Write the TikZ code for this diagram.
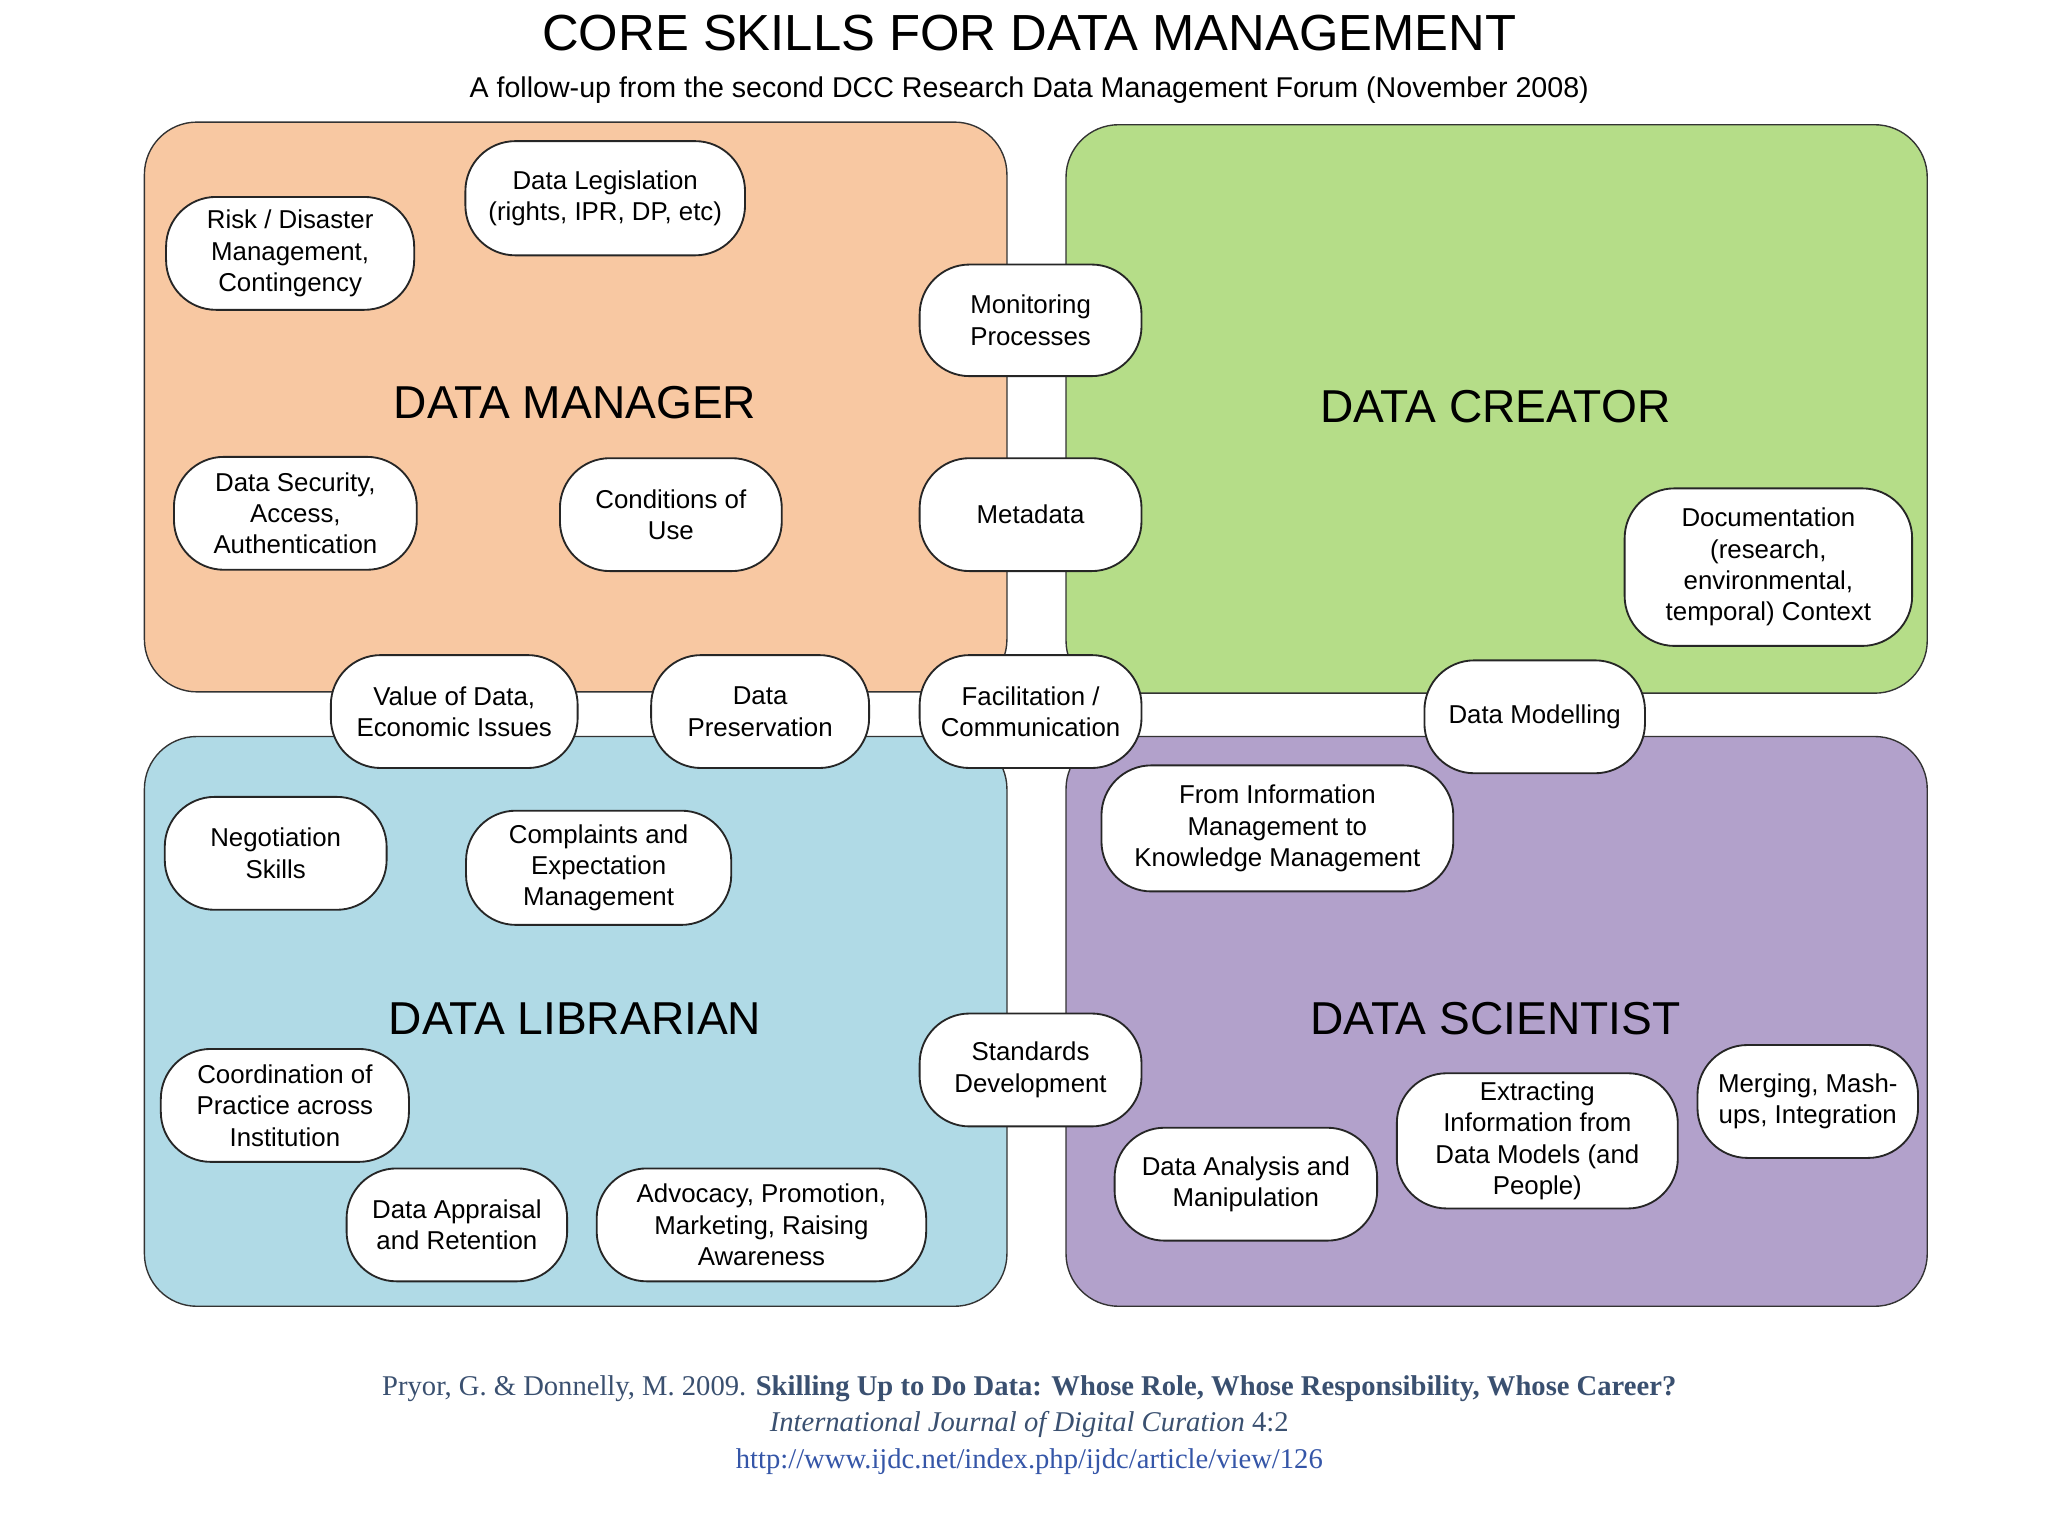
\documentclass[tikz,border=0pt]{standalone}
\usepackage{fontspec}
\setmainfont{Liberation Sans}
\newfontfamily\serifft{Liberation Serif}
\definecolor{mgr}{HTML}{F8C8A2}
\definecolor{cre}{HTML}{B5DD88}
\definecolor{lib}{HTML}{B0DAE6}
\definecolor{sci}{HTML}{B2A1CB}
\definecolor{foot}{HTML}{3A5070}
\definecolor{url}{HTML}{3556A8}
\tikzset{
 role/.style={draw=black!80,line width=1.5pt,rounded corners=2cm},
 skill/.style={draw=black!85,fill=white,line width=2pt,rounded corners=1.9cm,align=center,
   font=\fontsize{28}{34}\selectfont,inner sep=0pt},
 head/.style={font=\fontsize{50}{60}\selectfont}
}
\begin{document}
\begin{tikzpicture}[x=0.05cm,y=-0.05cm]
\useasboundingbox[fill=white] (0,0) rectangle (1560,1170);
\node (title) at (784,25) {\fontsize{55}{60}\selectfont CORE SKILLS FOR DATA MANAGEMENT};
\node (sub) at (784,69) {\fontsize{31}{36}\selectfont A follow-up from the second DCC Research Data Management Forum (November 2008)};
\draw[role,fill=mgr] (110,93) rectangle (767,527);
\draw[role,fill=cre] (812,95) rectangle (1468,528);
\draw[role,fill=lib] (110,561) rectangle (767,995);
\draw[role,fill=sci] (812,561) rectangle (1468,995);
\node[head] (hm) at (438,307) {DATA MANAGER};
\node[head] (hc) at (1139,310) {DATA CREATOR};
\node[head] (hl) at (438,776) {DATA LIBRARIAN};
\node[head] (hs) at (1139,776) {DATA SCIENTIST};
\newcommand{\sk}[6]{\node[skill,minimum width=#4*0.05cm,minimum height=#5*0.05cm] (#1) at (#2,#3) {#6};}
\sk{risk}{221}{193}{189}{86}{Risk / Disaster\\Management,\\Contingency}
\sk{legis}{461}{151}{213}{87}{Data Legislation\\(rights, IPR, DP, etc)}
\sk{monit}{785}{244}{169}{85}{Monitoring\\Processes}
\sk{secur}{225}{391}{185}{86}{Data Security,\\Access,\\Authentication}
\sk{cond}{511}{392}{169}{86}{Conditions of\\Use}
\sk{meta}{785}{392}{169}{86}{Metadata}
\sk{doc}{1347}{432}{219}{120}{Documentation\\(research,\\environmental,\\temporal) Context}
\sk{value}{346}{542}{188}{86}{Value of Data,\\Economic Issues}
\sk{pres}{579}{542}{166}{86}{Data\\Preservation}
\sk{facil}{785}{542}{169}{86}{Facilitation /\\Communication}
\sk{model}{1169}{546}{168}{86}{Data Modelling}
\sk{nego}{210}{650}{169}{86}{Negotiation\\Skills}
\sk{compl}{456}{661}{202}{87}{Complaints and\\Expectation\\Management}
\sk{info}{973}{631}{268}{96}{From Information\\Management to\\Knowledge Management}
\sk{stand}{785}{815}{169}{86}{Standards\\Development}
\sk{coord}{217}{842}{189}{86}{Coordination of\\Practice across\\Institution}
\sk{appr}{348}{933}{168}{86}{Data Appraisal\\and Retention}
\sk{advo}{580}{933}{251}{86}{Advocacy, Promotion,\\Marketing, Raising\\Awareness}
\sk{anal}{949}{902}{200}{86}{Data Analysis and\\Manipulation}
\sk{extr}{1171}{869}{214}{103}{Extracting\\Information from\\Data Models (and\\People)}
\sk{merg}{1377}{839}{168}{86}{Merging, Mash-\\ups, Integration}
\node[font=\serifft\fontsize{31}{36}\selectfont,text=foot] (f1) at (784,1058) {Pryor, G. \& Donnelly, M. 2009. \textbf{Skilling Up to Do Data: Whose Role, Whose Responsibility, Whose Career?}};
\node[font=\serifft\fontsize{31}{36}\selectfont,text=foot] (f2) at (784,1085) {\textit{International Journal of Digital Curation} 4:2};
\node[font=\serifft\fontsize{31}{36}\selectfont,text=url] (f3) at (784,1113) {http://www.ijdc.net/index.php/ijdc/article/view/126};
\end{tikzpicture}
\end{document}
